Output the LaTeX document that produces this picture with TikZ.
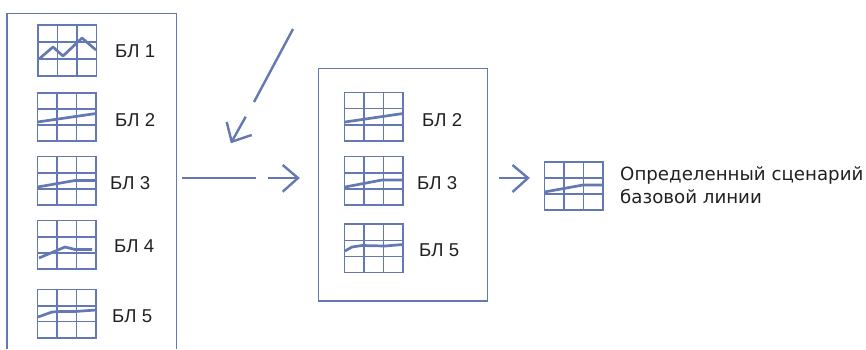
\documentclass[tikz,border=0pt]{standalone}
\usepackage{fontspec}
\setmainfont{Liberation Sans}
\newfontfamily\widefont{DejaVu Sans}
\definecolor{bl}{HTML}{6478B4}
\definecolor{tx}{HTML}{231F20}
\newcommand{\gridicon}[7]{% name, x0, x1, ytop, h1, h2, ybottom
  \draw[gridln] (#2,#4) rectangle (#3,#7);
  \foreach \v in {0.3333,0.6667}{\draw[gridln] ({#2+\v*(#3-#2)},#4) -- ({#2+\v*(#3-#2)},#7);}
  \draw[gridln] (#2,#5) -- (#3,#5);
  \draw[gridln] (#2,#6) -- (#3,#6);
  \coordinate (#1) at (#2,#4);
}
\tikzset{
  gridln/.style={draw=bl,line width=1.3pt},
  curveln/.style={draw=bl,line width=2.7pt,line join=round},
  boxln/.style={draw=bl,line width=1.3pt},
  arrowln/.style={draw=bl,line width=2.4pt},
  lbl/.style={text=tx,font=\fontsize{18.6}{22}\selectfont,inner sep=0pt,anchor=west},
  wide/.style={text=tx,font=\widefont\fontsize{18.2}{23}\selectfont,inner sep=0pt,anchor=west,align=left},
}
\begin{document}
\begin{tikzpicture}[x=1pt,y=-1pt]
\useasboundingbox (0,0) rectangle (866,349);
% boxes
\draw[boxln] (7,349) -- (7,13.5) -- (176.5,13.5) -- (176.5,349);
\draw[boxln] (318.3,68.7) rectangle (487.7,301);
% left column
\gridicon{a1}{38}{96.5}{25}{42}{59}{76}
\draw[curveln] (39,59) -- (53,47) -- (63,56) -- (82,38) -- (96,50);
\node[lbl] (t1) at (115,51) {БЛ 1};
\gridicon{a2}{37.5}{96}{93}{109}{125}{141}
\draw[curveln] (37.5,122) -- (96,113.5);
\node[lbl] (t2) at (115,120) {БЛ 2};
\gridicon{a3}{37.5}{96}{156.5}{173}{189}{205}
\draw[curveln] (37.5,187) -- (75,180.5) -- (96,180.5);
\node[lbl] (t3) at (110,183) {БЛ 3};
\gridicon{a4}{37.5}{96}{220.7}{237}{253}{269}
\draw[curveln] (39,258) -- (65,247) -- (75,249.5) -- (92,249.5);
\node[lbl] (t4) at (114,246) {БЛ 4};
\gridicon{a5}{37.5}{96}{289.7}{306}{321.7}{338}
\draw[curveln] (38,317) -- (52,312) -- (60,311.5) -- (75,311.5) -- (96,310);
\node[lbl] (t5) at (112,316) {БЛ 5};
% middle column
\gridicon{b1}{344.7}{403}{92.5}{108.5}{125}{141}
\draw[curveln] (345,122) -- (403,113.5);
\node[lbl] (m1) at (422,120) {БЛ 2};
\gridicon{b2}{344.7}{403}{156.7}{173}{189}{205}
\draw[curveln] (345,187) -- (382,180) -- (403,180);
\node[lbl] (m2) at (417,183) {БЛ 3};
\gridicon{b3}{344.7}{403}{224}{240.5}{256.5}{272.5}
\draw[curveln] (345,251) -- (352,247) -- (362,245.5) -- (385,246) -- (403,244.5);
\node[lbl] (m3) at (419,250) {БЛ 5};
% result
\gridicon{c1}{544.3}{603}{162}{178}{194}{210}
\draw[curveln] (544.3,192) -- (583,185) -- (603,185);
\node[wide] (res) at (620,185.5) {Определенный сценарий\\базовой линии};
% arrows
\coordinate (d0) at (293,29);
\coordinate (d1) at (254,102);
\coordinate (d2) at (245.7,116.7);
\coordinate (dt) at (231.7,141.7);
\coordinate (db1) at (226.7,122);
\coordinate (db2) at (251.7,135);
\draw[arrowln] (d0) -- (d1);
\draw[arrowln] (d2) -- (dt);
\draw[arrowln] (db1) -- (dt) -- (db2);
\coordinate (h0) at (182,178);
\coordinate (h1) at (256,178);
\coordinate (h2) at (268,178);
\coordinate (ht) at (298,178);
\coordinate (hb1) at (282.7,165);
\coordinate (hb2) at (282.7,191.7);
\draw[arrowln] (h0) -- (h1);
\draw[arrowln] (h2) -- (ht);
\draw[arrowln] (hb1) -- (ht) -- (hb2);
\coordinate (k0) at (499,178);
\coordinate (kt) at (528,178);
\coordinate (kb1) at (512.5,165);
\coordinate (kb2) at (512.5,192);
\draw[arrowln] (k0) -- (kt);
\draw[arrowln] (kb1) -- (kt) -- (kb2);
\end{tikzpicture}
\end{document}
